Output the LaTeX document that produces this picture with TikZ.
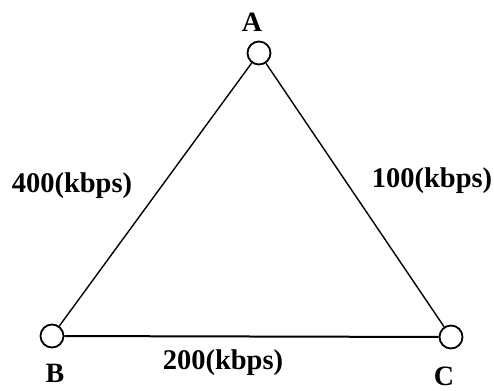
\documentclass[tikz,border=0pt]{standalone}
\usepackage{fontspec}
\setmainfont{Liberation Serif}
\begin{document}
\begin{tikzpicture}[x=1pt,y=-1pt,
  vertex/.style={circle,draw,line width=1.8pt,minimum size=23pt,inner sep=0pt,fill=white},
  lbl/.style={font=\fontsize{28}{30}\selectfont\bfseries,inner sep=0pt},
  rate/.style={font=\fontsize{28.5}{30}\selectfont\bfseries,inner sep=0pt},
  edge/.style={line width=1.4pt}]
\useasboundingbox (0,0) rectangle (494,390);
\node[vertex] (A) at (259,53) {};
\node[vertex] (B) at (52,336) {};
\node[vertex] (C) at (451,337) {};
\draw[edge] (A) -- (B);
\draw[edge] (A) -- (C);
\draw[edge,line width=2pt] (B) -- (C);
\node[lbl] (la) at (252,22) {A};
\node[lbl] (lb) at (55,373) {B};
\node[lbl] (lc) at (444,376) {C};
\node[rate] (l1) at (72,186) {400(kbps)};
\node[rate] (l2) at (432,181) {100(kbps)};
\node[rate] (l3) at (223,363) {200(kbps)};
\end{tikzpicture}
\end{document}
